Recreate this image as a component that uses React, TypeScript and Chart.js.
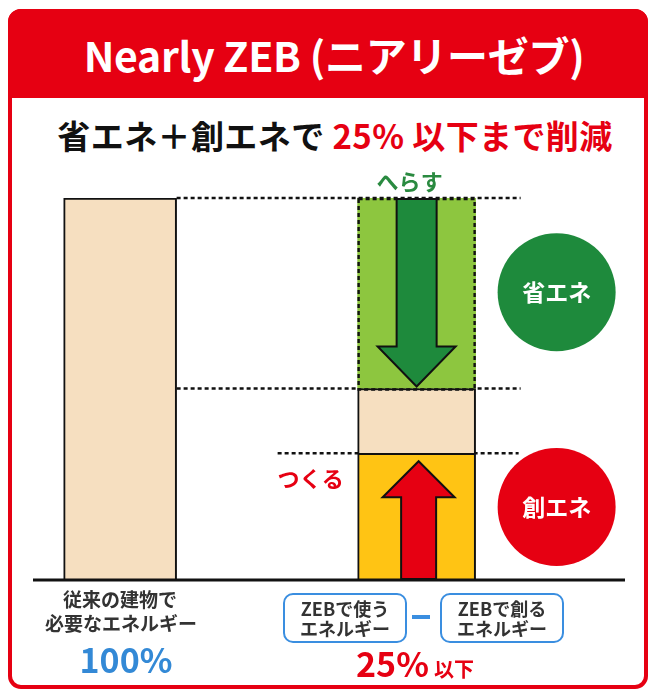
import React, { useEffect, useRef } from "react";
import { Chart, registerables } from "chart.js";

Chart.register(...registerables);

// ---- data ----
const categories = ["従来の建物", "", "ZEB", ""];
const conventionalEnergy = [100, null, null, null]; // 従来の建物で必要なエネルギー
const zebCreated = [null, null, 33, null]; // 創エネ (yellow)
const zebRemaining = [null, null, 17, null]; // ZEBで使うエネルギー − 創る (peach)
const zebSaved = [null, null, 50, null]; // 省エネ (light green)
const levelLines = [100, 50, 33];

const RED = "#E60012";
const DKGREEN = "#1E8A3C";
const PEACH = "#F6DFC0";
const YELLOW = "#FFC414";
const LTGREEN = "#8DC63F";
const BLUE = "#3389D6";
const FONT = "'Noto Sans CJK JP', 'Noto Sans', sans-serif";

const overlayPlugin = {
  id: "overlay",
  beforeDatasetsDraw(chart: any) {
    const { ctx } = chart;
    const y = chart.scales.y;
    const conv = chart.getDatasetMeta(0).data[0] as any;
    const save = chart.getDatasetMeta(3).data[2] as any;
    const lRight = conv.x + conv.width / 2;
    const rLeft = save.x - save.width / 2;
    const rRight = save.x + save.width / 2;
    ctx.save();
    ctx.setLineDash([4, 3]);
    ctx.lineWidth = 2.6;
    ctx.strokeStyle = "#111";
    const y100 = y.getPixelForValue(levelLines[0]);
    const y50 = y.getPixelForValue(levelLines[1]);
    const y33 = y.getPixelForValue(levelLines[2]);
    ctx.beginPath();
    ctx.moveTo(lRight, y100);
    ctx.lineTo(rRight + 45, y100);
    ctx.moveTo(lRight, y50);
    ctx.lineTo(rRight + 45, y50);
    ctx.moveTo(rLeft - 80, y33);
    ctx.lineTo(rRight + 43, y33);
    ctx.stroke();
    ctx.restore();
  },
  afterDatasetsDraw(chart: any) {
    const { ctx } = chart;
    const y = chart.scales.y;
    const save = chart.getDatasetMeta(3).data[2] as any;
    const cx = save.x;
    const rLeft = save.x - save.width / 2;
    const rRight = save.x + save.width / 2;
    const y0 = y.getPixelForValue(0);
    const y100 = y.getPixelForValue(levelLines[0]);
    const y50 = y.getPixelForValue(levelLines[1]);
    const y33 = y.getPixelForValue(levelLines[2]);
    ctx.save();
    // dotted outline of green segment
    ctx.setLineDash([4, 3]);
    ctx.lineWidth = 2.4;
    ctx.strokeStyle = "#111";
    ctx.strokeRect(rLeft + 1, save.y + 1, save.width - 2, save.base - save.y);
    ctx.setLineDash([]);

    // green arrow (down)
    const gTip = y50 - 2;
    const gHead = gTip - 40;
    ctx.beginPath();
    ctx.moveTo(cx - 20, y100 + 1);
    ctx.lineTo(cx + 20, y100 + 1);
    ctx.lineTo(cx + 20, gHead);
    ctx.lineTo(cx + 39, gHead);
    ctx.lineTo(cx, gTip);
    ctx.lineTo(cx - 39, gHead);
    ctx.lineTo(cx - 20, gHead);
    ctx.closePath();
    ctx.fillStyle = DKGREEN;
    ctx.fill();
    ctx.lineWidth = 2;
    ctx.strokeStyle = "#111";
    ctx.lineJoin = "miter";
    ctx.stroke();

    // red arrow (up)
    const rTip = y33 + 8;
    const rHead = rTip + 36;
    const rcx = cx + 2;
    ctx.beginPath();
    ctx.moveTo(rcx - 17.5, y0);
    ctx.lineTo(rcx - 17.5, rHead);
    ctx.lineTo(rcx - 36, rHead);
    ctx.lineTo(rcx, rTip);
    ctx.lineTo(rcx + 36, rHead);
    ctx.lineTo(rcx + 17.5, rHead);
    ctx.lineTo(rcx + 17.5, y0);
    ctx.closePath();
    ctx.fillStyle = RED;
    ctx.fill();
    ctx.stroke();

    // baseline
    ctx.beginPath();
    ctx.lineWidth = 3;
    ctx.strokeStyle = "#111";
    ctx.moveTo(33, y0 + 1);
    ctx.lineTo(625, y0 + 1);
    ctx.stroke();

    // circles
    const ccx = rRight + 81;
    ctx.fillStyle = DKGREEN;
    ctx.beginPath();
    ctx.arc(ccx, (y100 + y50) / 2 - 1, 59, 0, Math.PI * 2);
    ctx.fill();
    ctx.fillStyle = RED;
    ctx.beginPath();
    ctx.arc(ccx, y0 - 72, 59, 0, Math.PI * 2);
    ctx.fill();

    ctx.textAlign = "center";
    ctx.textBaseline = "middle";
    ctx.fillStyle = "#fff";
    ctx.font = `bold 23px ${FONT}`;
    ctx.fillText("省エネ", ccx, (y100 + y50) / 2 - 1);
    ctx.fillText("創エネ", ccx, y0 - 72);

    ctx.font = `bold 22px ${FONT}`;
    ctx.fillStyle = "#2A8A40";
    ctx.fillText("へらす", cx - 7, y100 - 16);
    ctx.fillStyle = RED;
    ctx.fillText("つくる", rLeft - 47, y33 + 25);
    ctx.restore();
  },
};

const T = ({ x, y, children, style }: any) => (
  <div
    style={{
      position: "absolute",
      left: x,
      top: y,
      transform: "translate(-50%, -50%)",
      whiteSpace: "nowrap",
      lineHeight: 1,
      fontFamily: FONT,
      fontWeight: 700,
      ...style,
    }}
  >
    {children}
  </div>
);

export default function App() {
  const ref = useRef<HTMLCanvasElement>(null);
  useEffect(() => {
    if (!ref.current) return;
    const chart = new Chart(ref.current, {
      type: "bar",
      data: {
        labels: categories,
        datasets: [
          {
            label: "従来の建物で必要なエネルギー",
            data: conventionalEnergy,
            backgroundColor: PEACH,
            borderColor: "#111",
            borderWidth: { top: 2, left: 2, right: 2, bottom: 0 },
            borderSkipped: false,
            barThickness: 113,
          },
          {
            label: "創エネ",
            data: zebCreated,
            backgroundColor: YELLOW,
            borderColor: "#111",
            borderWidth: { top: 2, left: 2, right: 2, bottom: 0 },
            borderSkipped: false,
            barThickness: 118,
          },
          {
            label: "ZEBで使うエネルギー",
            data: zebRemaining,
            backgroundColor: PEACH,
            borderColor: "#111",
            borderWidth: { top: 2, left: 2, right: 2, bottom: 0 },
            borderSkipped: false,
            barThickness: 118,
          },
          {
            label: "省エネ",
            data: zebSaved,
            backgroundColor: LTGREEN,
            borderWidth: 0,
            barThickness: 118,
          },
        ],
      },
      options: {
        responsive: false,
        animation: false,
        layout: { padding: { left: 46, right: 13, top: 198, bottom: 111 } },
        scales: {
          x: { stacked: true, display: false, grid: { display: false } },
          y: { stacked: true, display: false, min: 0, max: 100 },
        },
        plugins: { legend: { display: false }, tooltip: { enabled: false } },
      },
      plugins: [overlayPlugin],
    } as any);
    return () => chart.destroy();
  }, []);

  const box = (x: number, l1: string, l2: string) => (
    <div
      style={{
        position: "absolute",
        left: x,
        top: 593,
        width: 124,
        height: 50,
        boxSizing: "border-box",
        border: "2px solid #3A8EE0",
        borderRadius: 10,
        background: "#fff",
        display: "flex",
        flexDirection: "column",
        alignItems: "center",
        justifyContent: "center",
        fontFamily: FONT,
        fontWeight: 700,
        fontSize: 18,
        lineHeight: "20px",
        color: "#333",
      }}
    >
      <div>{l1}</div>
      <div>{l2}</div>
    </div>
  );

  return (
    <div style={{ position: "absolute", left: 0, top: 0, width: 652, height: 690, background: "#fff", overflow: "hidden" }}>
      <div
        style={{
          position: "absolute",
          left: 8,
          top: 9,
          width: 640,
          height: 680,
          boxSizing: "border-box",
          border: `4px solid ${RED}`,
          borderRadius: 13,
        }}
      />
      <div style={{ position: "absolute", left: 8, top: 9, width: 640, height: 89, background: RED, borderRadius: "13px 13px 0 0" }} />
      <T x={334} y={54} style={{ color: "#fff", fontSize: 41, letterSpacing: -0.3 }}>
        Nearly ZEB (ニアリーゼブ)
      </T>
      <T x={335} y={135} style={{ color: "#111", fontSize: 33, letterSpacing: 0.4 }}>
        省エネ＋創エネで <span style={{ color: RED }}>25% 以下まで削減</span>
      </T>
      <canvas ref={ref} width={652} height={690} style={{ position: "absolute", left: 0, top: 0, width: 652, height: 690 }} />
      <T x={120} y={598} style={{ color: "#333", fontSize: 19 }}>従来の建物で</T>
      <T x={121} y={622} style={{ color: "#333", fontSize: 19 }}>必要なエネルギー</T>
      <T x={126} y={659} style={{ color: BLUE, fontSize: 34 }}>100%</T>
      {box(283, "ZEBで使う", "エネルギー")}
      <div style={{ position: "absolute", left: 412, top: 615, width: 18, height: 4, background: "#3A8EE0" }} />
      {box(440, "ZEBで創る", "エネルギー")}
      <T x={415} y={663} style={{ color: RED, fontSize: 34 }}>
        25%<span style={{ fontSize: 20, marginLeft: 5 }}>以下</span>
      </T>
    </div>
  );
}
